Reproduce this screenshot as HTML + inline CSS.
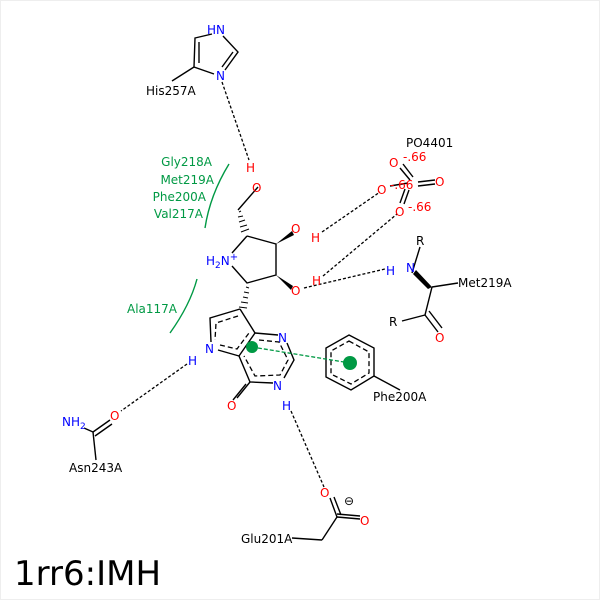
<!DOCTYPE html>
<html><head><meta charset="utf-8"><style>
html,body{margin:0;padding:0;background:#fff}
svg{display:block}
text{font-family:"DejaVu Sans","Liberation Sans",sans-serif;font-size:12px}
.b{fill:#000}.n{fill:#0000ff}.o{fill:#ff0000}.g{fill:#009944}
</style></head><body>
<svg width="600" height="600" viewBox="0 0 600 600" xmlns="http://www.w3.org/2000/svg">
<rect x="0.5" y="0.5" width="599" height="599" fill="#fff" stroke="#eee"/>
<g stroke="#000" stroke-width="1.4" fill="none">
<!-- imidazole -->
<polyline points="212,34 195,38 194,67 214,74"/>
<line x1="199" y1="42" x2="199" y2="63"/>
<polyline points="223,36 238,52 225,70"/>
<line x1="233" y1="52" x2="222" y2="67"/>
<line x1="194" y1="67" x2="172" y2="81"/>
<!-- sugar ring -->
<line x1="258" y1="187" x2="238" y2="210"/>
<polyline points="247,236 276,244 276,275 247,283 232,266"/>
<line x1="247" y1="236" x2="232" y2="253"/>
<!-- Met219 -->
<line x1="412" y1="273" x2="420" y2="247"/>
<line x1="432" y1="287" x2="458" y2="283"/>
<line x1="432" y1="287" x2="425" y2="315"/>
<line x1="425" y1="315" x2="402" y2="321"/>
<line x1="425" y1="315" x2="438" y2="332"/>
<line x1="429" y1="311" x2="442" y2="328"/>
<!-- PO4 -->
<line x1="400" y1="168" x2="410" y2="180"/><line x1="403" y1="164" x2="413" y2="177"/>
<line x1="418" y1="182" x2="435" y2="180"/><line x1="418" y1="186" x2="435" y2="184"/>
<line x1="390" y1="186" x2="408" y2="183"/>
<line x1="404" y1="204" x2="409" y2="190"/><line x1="400" y1="203" x2="405" y2="189"/>
<!-- purine -->
<polyline points="240,309 210,318 211,342"/>
<polyline points="218,350 239,356 255,333 240,309"/>
<line x1="255" y1="333" x2="278" y2="335"/>
<polyline points="287,343 294,360 284,378"/>
<polyline points="273,383 250,382 239,356"/>
<line x1="250" y1="382" x2="237" y2="398"/>
<line x1="246" y1="384" x2="233" y2="400"/>
<!-- Phe -->
<polygon points="349,335 374,348 374,376 351,390 326,377 326,348"/>
<line x1="374" y1="376" x2="400" y2="390"/>
<!-- Asn -->
<line x1="84" y1="428" x2="93" y2="432"/>
<line x1="93" y1="432" x2="110" y2="420"/><line x1="95" y1="436" x2="112" y2="424"/>
<line x1="93" y1="432" x2="96" y2="460"/>
<!-- Glu -->
<line x1="330" y1="498" x2="337" y2="517"/><line x1="334" y1="497" x2="341" y2="515"/>
<line x1="337" y1="517" x2="360" y2="519"/><line x1="337" y1="514" x2="360" y2="516"/>
<line x1="337" y1="517" x2="322" y2="540"/>
<line x1="322" y1="540" x2="292" y2="538"/>
</g>
<!-- dashed inner aromatic -->
<g stroke="#000" stroke-width="1.3" fill="none" stroke-dasharray="5,3">
<polyline points="238,316 216,323 215,340"/>
<polyline points="220,345 237,349 249,333"/>
<polyline points="259,340 279,342 288,360 280,375 255,376 244,356"/>
<polygon points="349,341 369,352 369,373 351,384 331,374 331,351"/>
</g>
<!-- wedges -->
<g fill="#000">
<polygon points="276,244 292,231 294,235"/>
<polygon points="276,275 291,290 293,286"/>
<polygon points="416,270 432,287 428,289 413,274"/>
</g>
<!-- hashed bonds -->
<g stroke="#000" stroke-width="1">
<line x1="239" y1="212" x2="241" y2="211"/><line x1="238" y1="217" x2="243" y2="216"/><line x1="239" y1="222" x2="245" y2="220"/><line x1="240" y1="227" x2="247" y2="225"/><line x1="241" y1="232" x2="249" y2="229"/>
<line x1="246" y1="287" x2="249" y2="288"/><line x1="244" y1="292" x2="249" y2="293"/><line x1="243" y1="297" x2="248" y2="298"/><line x1="241" y1="302" x2="248" y2="303"/><line x1="239" y1="307" x2="247" y2="308"/>
</g>
<!-- H-bonds -->
<g stroke="#000" stroke-width="1.3" fill="none" stroke-dasharray="3,2">
<line x1="222" y1="82" x2="249" y2="160"/>
<line x1="322" y1="232" x2="380" y2="192"/>
<line x1="323" y1="276" x2="397" y2="214"/>
<line x1="304" y1="288" x2="385" y2="269"/>
<line x1="187" y1="364" x2="121" y2="411"/>
<line x1="291" y1="411" x2="324" y2="487"/>
</g>
<line x1="252" y1="347" x2="350" y2="363" stroke="#009944" stroke-width="1.3" stroke-dasharray="4,2"/>
<circle cx="252" cy="347" r="6" fill="#009944"/>
<circle cx="350" cy="363" r="7" fill="#009944"/>
<!-- hydrophobic arcs -->
<path d="M229,164 Q210,195 205,228" stroke="#009944" stroke-width="1.4" fill="none"/>
<path d="M197,279 Q190,305 170,333" stroke="#009944" stroke-width="1.4" fill="none"/>
<!-- labels -->
<text x="207" y="34" class="n">HN</text>
<text x="216" y="80" class="n">N</text>
<text x="146" y="95" class="b">His257A</text>
<text x="246" y="172" class="o">H</text>
<text x="252" y="192" class="o">O</text>
<text x="206" y="265" class="n">H<tspan font-size="9" dy="3">2</tspan><tspan dy="-3">N</tspan><tspan font-size="10" dy="-5">+</tspan></text>
<text x="291" y="233" class="o">O</text>
<text x="311" y="242" class="o">H</text>
<text x="291" y="295" class="o">O</text>
<text x="312" y="285" class="o">H</text>
<text x="406" y="147" class="b">PO4401</text>
<text x="389" y="167" class="o">O</text><text x="403" y="161" class="o" font-size="10">-.66</text>
<text x="435" y="186" class="o">O</text>
<text x="377" y="194" class="o">O</text><text x="390" y="189" class="o" font-size="10">-.66</text>
<text x="395" y="216" class="o">O</text><text x="408" y="211" class="o" font-size="10">-.66</text>
<text x="386" y="275" class="n">H</text>
<text x="406" y="272" class="n">N</text>
<text x="416" y="245" class="b">R</text>
<text x="458" y="287" class="b">Met219A</text>
<text x="389" y="326" class="b">R</text>
<text x="435" y="342" class="o">O</text>
<text x="278" y="342" class="n">N</text>
<text x="205" y="353" class="n">N</text>
<text x="188" y="365" class="n">H</text>
<text x="273" y="390" class="n">N</text>
<text x="282" y="410" class="n">H</text>
<text x="227" y="410" class="o">O</text>
<text x="373" y="401" class="b">Phe200A</text>
<text x="62" y="426" class="n">NH<tspan font-size="9" dy="3">2</tspan></text>
<text x="110" y="420" class="o">O</text>
<text x="69" y="472" class="b">Asn243A</text>
<text x="320" y="497" class="o">O</text>
<text x="344" y="505" class="b">⊖</text>
<text x="360" y="525" class="o">O</text>
<text x="241" y="543" class="b">Glu201A</text>
<g class="g" text-anchor="end">
<text x="212" y="166" class="g">Gly218A</text>
<text x="214" y="184" class="g">Met219A</text>
<text x="206" y="201" class="g">Phe200A</text>
<text x="203" y="218" class="g">Val217A</text>
<text x="177" y="313" class="g">Ala117A</text>
</g>
<text x="14" y="585" class="b" style="font-size:34px">1rr6:IMH</text>
</svg>
</body></html>
